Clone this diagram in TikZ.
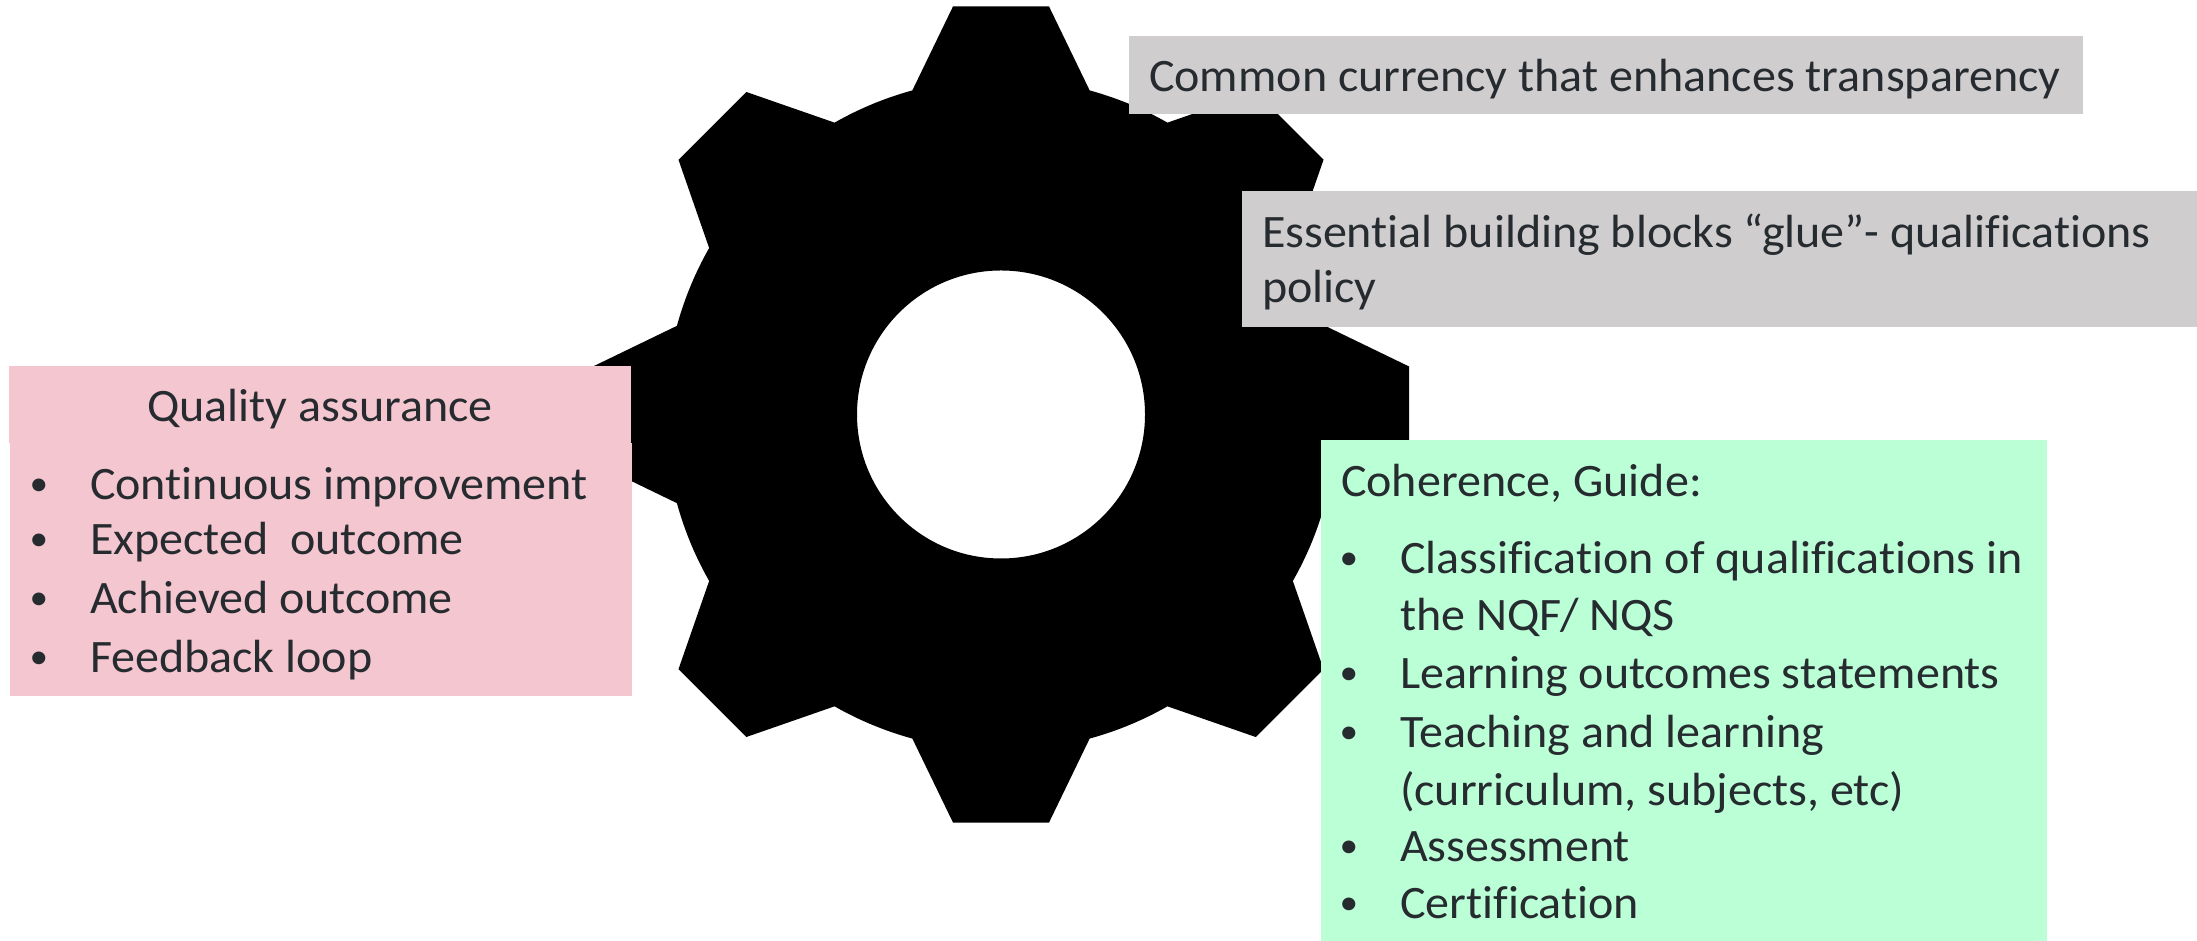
\documentclass[tikz,border=0pt]{standalone}
\usepackage{fontspec}
\setmainfont{Carlito}[Ligatures=CommonOff,FakeStretch=1.033]
\definecolor{inkc}{HTML}{262B30}
\definecolor{greyc}{HTML}{CFCDCE}
\definecolor{pinkc}{HTML}{F4C6CF}
\definecolor{greenc}{HTML}{BBFFD6}
\newcommand{\bul}[1]{\makebox[0pt][l]{\kern-60.5pt\raisebox{4pt}{\fontsize{36}{36}\selectfont •}}#1}
\tikzset{
  panel/.style={inner sep=0pt,outer sep=0pt,anchor=south west,minimum width=#1},
  txt/.style={inner sep=0pt,outer sep=0pt,anchor=base west,text=inkc,font=\fontsize{46.5}{54}\selectfont},
}
\begin{document}
\begin{tikzpicture}[x=1pt,y=1pt]
\useasboundingbox (0,0) rectangle (2197,941);
\fill[white] (0,0) rectangle (2197,941);
% gear
\begin{scope}[shift={(1001,526.5)}]
\fill[black,even odd rule]
  (105.3:336) -- (96.7:411) -- (83.3:411) -- (74.7:336)
  arc[start angle=74.7,end angle=60.3,radius=336pt]
  -- (51.7:411) -- (38.3:411) -- (29.7:336)
  arc[start angle=29.7,end angle=15.3,radius=336pt]
  -- (6.7:411) -- (-6.7:411) -- (-15.3:336)
  arc[start angle=-15.3,end angle=-29.7,radius=336pt]
  -- (-38.3:411) -- (-51.7:411) -- (-60.3:336)
  arc[start angle=-60.3,end angle=-74.7,radius=336pt]
  -- (-83.3:411) -- (-96.7:411) -- (-105.3:336)
  arc[start angle=-105.3,end angle=-119.7,radius=336pt]
  -- (-128.3:411) -- (-141.7:411) -- (-150.3:336)
  arc[start angle=-150.3,end angle=-164.7,radius=336pt]
  -- (-173.3:411) -- (-186.7:411) -- (-195.3:336)
  arc[start angle=-195.3,end angle=-209.7,radius=336pt]
  -- (-218.3:411) -- (-231.7:411) -- (-240.3:336)
  arc[start angle=-240.3,end angle=-254.7,radius=336pt]
  -- cycle
  (0,0) circle[radius=144pt];
\end{scope}
% panels
\node[panel=954pt,fill=greyc,minimum height=78pt] (currencybox) at (1129,827) {};
\node[panel=955pt,fill=greyc,minimum height=136pt] (gluebox) at (1242,614) {};
\node[panel=622pt,fill=pinkc,minimum height=77pt] (qatitlebox) at (9,498) {};
\node[panel=622pt,fill=pinkc,minimum height=253pt] (qabox) at (10,245) {};
\node[panel=725.5pt,fill=greenc,minimum height=501pt] (cohbox) at (1321,0) {};
% grey text
\node[txt] (currency) at (1149,849) {Common currency that enhances transparency};
\node[txt] (glue1) at (1262,693) {Essential building blocks “glue”- qualifications};
\node[txt] (glue2) at (1262,638) {policy};
% pink text
\node[txt,anchor=base] (qatitle) at (320,519) {Quality assurance};
\node[txt] (qa1) at (90,441) {\bul{Continuous improvement}};
\node[txt] (qa2) at (90,386) {\bul{Expected\ \ outcome}};
\node[txt] (qa3) at (90,327) {\bul{Achieved outcome}};
\node[txt] (qa4) at (90,268) {\bul{Feedback loop}};
% green text
\node[txt] (coh) at (1341,444) {Coherence, Guide:};
\node[txt] (coh1) at (1400,367) {\bul{Classification of qualifications in}};
\node[txt] (coh1b) at (1400,310) {the NQF/ NQS};
\node[txt] (coh2) at (1400,252) {\bul{Learning outcomes statements}};
\node[txt] (coh3) at (1400,193) {\bul{Teaching and learning}};
\node[txt] (coh3b) at (1400,135) {(curriculum, subjects, etc)};
\node[txt] (coh4) at (1400,79) {\bul{Assessment}};
\node[txt] (coh5) at (1400,22) {\bul{Certification}};
\end{tikzpicture}
\end{document}
